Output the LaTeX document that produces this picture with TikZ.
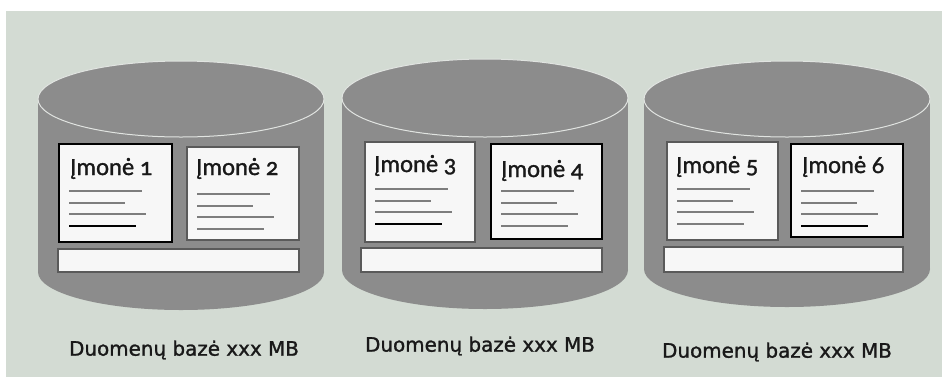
\documentclass[tikz,border=0pt]{standalone}
\usepackage{fontspec}
\newfontfamily\titlefont{Carlito}[Numbers=OldStyle, FakeBold=1.2]
\newfontfamily\labelfont{DejaVu Sans}[FakeBold=1.3]
\definecolor{bggreen}{RGB}{211,219,211}
\definecolor{cylgrey}{RGB}{140,140,140}
\definecolor{lidline}{RGB}{225,228,225}
\definecolor{pagewhite}{RGB}{247,247,247}
\definecolor{pageedge}{RGB}{90,90,90}
\definecolor{lineg}{RGB}{125,125,125}

\begin{document}
\begin{tikzpicture}[x=0.3mm, y=-0.3mm,
  cyl/.style={fill=cylgrey},
  lid/.style={draw=lidline, fill=cylgrey, line width=0.3mm},
  page/.style={fill=pagewhite, draw=pageedge, line width=0.5mm},
  pagesel/.style={page, draw=black},
  txtline/.style={draw=lineg, line width=0.45mm},
  title/.style={font=\titlefont\fontsize{21}{21}\selectfont, anchor=base west, inner sep=0pt, text=black!90},
  caption/.style={font=\labelfont\fontsize{17}{17}\selectfont, inner sep=0pt, text=black!90}]

\useasboundingbox (0,0) rectangle (942,377);
\fill[white] (0,0) rectangle (942,377);
\fill[bggreen] (6,11) rectangle (942,377);

% cylinders
\fill[cyl] (38,99) rectangle (324,272);
\fill[cyl] (181,272) ellipse (143 and 38);
\draw[lid] (181,99) ellipse (143 and 38);

\fill[cyl] (342,98) rectangle (628,270);
\fill[cyl] (485,270) ellipse (143 and 39);
\draw[lid] (485,98) ellipse (143 and 39);

\fill[cyl] (644,99) rectangle (930,269);
\fill[cyl] (787,269) ellipse (143 and 38);
\draw[lid] (787,99) ellipse (143 and 38);

% pages
\draw[pagesel] (59,144) rectangle (172,242);
\draw[page] (187,147) rectangle (299,240);
\draw[page] (58,249) rectangle (299,272);

\draw[page] (365,142) rectangle (475,242);
\draw[pagesel] (491,144) rectangle (602,239);
\draw[page] (361,248) rectangle (602,272);

\draw[page] (667,142) rectangle (778,240);
\draw[pagesel] (791,144) rectangle (903,237);
\draw[page] (664,247) rectangle (903,272);

% text lines
\foreach \bx/\by/\lastc in {59/144/black, 187/147/lineg, 365/142/black,
                             491/144/lineg, 667/142/lineg, 791/144/black}{
  \foreach \dy/\len in {47/73, 59/56, 70/77}
    \draw[txtline] (\bx+10,\by+\dy) -- ++(\len,0);
  \draw[txtline, draw=\lastc] (\bx+10,\by+82) -- ++(67,0);
}

\node[title] (t1) at (70,175) {Įmonė 1};
\node[title] (t2) at (196,175) {Įmonė 2};
\node[title] (t3) at (374,172) {Įmonė 3};
\node[title] (t4) at (501,177) {Įmonė 4};
\node[title] (t5) at (676,173) {Įmonė 5};
\node[title] (t6) at (802,173) {Įmonė 6};

\node[caption] (l1) at (184,350) {Duomenų bazė xxx MB};
\node[caption] (l2) at (480,346) {Duomenų bazė xxx MB};
\node[caption] (l3) at (777,352) {Duomenų bazė xxx MB};
\end{tikzpicture}
\end{document}
